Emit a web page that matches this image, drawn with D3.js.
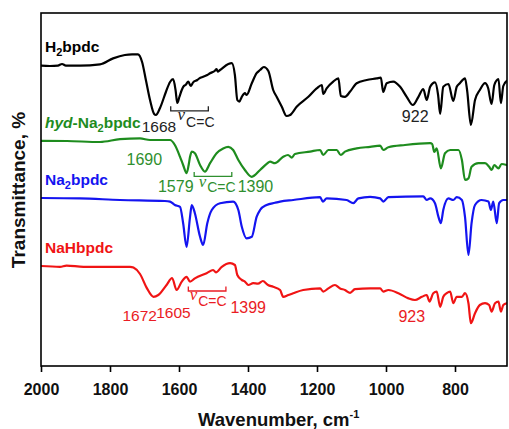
<!DOCTYPE html>
<html>
<head>
<meta charset="utf-8">
<script src="https://cdn.jsdelivr.net/npm/d3@7"></script>
<style>
  html, body { margin: 0; padding: 0; background: #fff; }
  svg { display: block; }
  text { font-family: "Liberation Sans", Arial, Helvetica, sans-serif; }
</style>
</head>
<body>
<svg id="chart" width="509" height="429"></svg>
<script>
// FTIR spectra, [wavenumber (cm-1), transmittance (offset, a.u.)]
const h2bpdc = [
  [2000,75.1],[1974,75.0],[1951,75.1],[1939,75.5],[1928,75.1],[1887,75.1],[1829,75.4],
  [1791,76.9],[1757,77.75],[1736,77.9],[1719,77.9],[1707,76.0],[1696,71.5],[1684,66.5],
  [1672,63.0],[1667,62.75],[1655,64.5],[1638,68.5],[1626,71.0],[1617,71.7],[1610,69.0],
  [1605,65.75],[1599,67.25],[1592,69.0],[1586,70.0],[1581,70.25],[1573,71.1],[1566,70.0],
  [1559,70.9],[1547,71.5],[1541,71.9],[1530,72.3],[1518,72.75],[1510,73.2],[1496,73.8],
  [1491,74.25],[1488,73.6],[1481,74.0],[1457,75.5],[1447,75.7],[1438,72.75],[1431,66.5],
  [1425,66.1],[1418,67.3],[1409,68.2],[1404,67.75],[1389,70.7],[1375,73.2],[1365,74.0],
  [1354,74.75],[1341,73.75],[1327,69.0],[1317,67.3],[1302,64.8],[1288,62.5],[1278,62.75],
  [1259,64.8],[1225,67.3],[1201,69.4],[1186,70.25],[1182,68.0],[1172,69.4],[1153,71.1],
  [1138,71.9],[1131,67.5],[1119,67.3],[1104,68.6],[1085,70.7],[1056,71.5],[1027,71.9],
  [1015,72.1],[1008,68.5],[998,70.7],[979,71.1],[959,69.8],[940,67.3],[922,65.25],
  [906,67.3],[892,69.25],[882,66.5],[872,69.8],[858,70.9],[849,67.75],[843,63.0],
  [834,69.8],[819,70.5],[805,66.25],[795,69.8],[786,70.7],[771,71.9],[765,69.0],
  [754,60.25],[742,66.5],[728,69.0],[713,70.7],[704,69.5],[694,65.5],[686,70.25],
  [674,71.7],[667,65.7],[660,70.0],[650,71.25]
];

const hydNa2bpdc = [
  [2000,56.3],[1925,56.25],[1829,56.0],[1771,56.7],[1713,56.9],[1684,56.5],[1655,56.5],
  [1626,56.5],[1612,55.25],[1597,52.3],[1588,50.25],[1578,48.2],[1572,50.25],[1568,52.3],
  [1563,53.6],[1554,53.2],[1539,50.25],[1525,48.6],[1510,50.7],[1491,53.2],[1472,54.4],
  [1457,54.8],[1443,54.0],[1428,51.5],[1409,49.0],[1389,47.3],[1365,49.0],[1345,50.6],
  [1336,51.1],[1322,50.7],[1298,52.3],[1284,52.75],[1273,52.1],[1264,53.0],[1220,53.6],
  [1191,54.0],[1182,52.75],[1167,54.0],[1143,54.0],[1131,52.75],[1119,53.6],[1085,54.4],
  [1046,54.8],[1017,55.1],[1008,54.0],[993,54.7],[945,55.25],[872,55.7],[866,55.5],
  [860,53.5],[853,54.4],[841,49.4],[829,53.2],[814,54.0],[790,54.0],[780,51.5],
  [771,46.5],[761,46.9],[752,49.8],[732,50.7],[713,50.7],[701,49.8],[694,49.0],
  [686,50.25],[674,49.4],[665,50.5],[650,50.25]
];

const na2bpdc = [
  [2000,42.0],[1887,41.9],[1771,41.5],[1641,41.25],[1626,41.1],[1612,40.25],[1597,39.8],
  [1588,35.7],[1578,29.8],[1568,37.3],[1563,40.25],[1554,38.2],[1539,32.3],[1530,30.25],
  [1518,35.7],[1505,39.0],[1481,40.7],[1443,41.1],[1428,39.0],[1418,34.8],[1404,31.9],
  [1389,32.3],[1375,37.3],[1365,39.0],[1346,40.25],[1322,40.8],[1307,41.1],[1269,41.5],
  [1191,42.2],[1183,41.1],[1172,41.9],[1114,41.5],[1095,40.7],[1080,41.9],[1046,42.3],
  [1017,41.9],[1008,41.1],[993,42.2],[892,42.4],[882,41.5],[872,41.9],[858,40.7],
  [848,37.3],[841,35.7],[834,39.0],[819,41.9],[805,41.5],[795,42.2],[780,41.5],
  [771,37.3],[761,27.75],[752,35.7],[742,40.25],[723,41.5],[703,41.1],[696,39.0],
  [689,41.1],[679,35.7],[672,40.7],[660,41.5],[650,41.5]
];

const nahbpdc = [
  [2000,25.0],[1945,24.8],[1926,25.1],[1877,24.8],[1742,24.8],[1732,24.6],[1713,23.0],
  [1694,19.6],[1674,17.3],[1660,17.75],[1636,20.25],[1620,22.0],[1607,19.0],[1592,21.1],
  [1578,22.3],[1568,21.1],[1554,21.9],[1520,23.2],[1501,24.0],[1493,23.4],[1476,24.8],
  [1452,25.7],[1438,25.25],[1431,22.75],[1418,21.5],[1409,21.1],[1399,20.25],[1385,20.7],
  [1371,20.6],[1357,21.25],[1342,20.25],[1327,19.8],[1307,19.0],[1298,17.3],[1283,17.75],
  [1269,18.2],[1240,19.0],[1191,19.4],[1182,18.6],[1167,19.4],[1148,20.25],[1133,19.4],
  [1119,19.0],[1104,18.3],[1090,19.2],[1046,19.4],[1017,19.4],[1008,18.6],[993,19.0],
  [964,18.2],[935,16.9],[916,16.5],[896,17.3],[882,17.75],[874,16.1],[863,18.2],
  [853,18.6],[843,14.8],[834,17.3],[824,18.2],[814,18.6],[805,15.7],[795,17.3],
  [780,17.3],[771,18.2],[761,15.7],[754,10.7],[742,13.2],[728,15.25],[713,15.7],
  [701,15.25],[694,13.6],[684,15.7],[674,16.1],[667,13.6],[660,15.25],[650,15.7]
];

const wavenumberTicks = [2000, 1800, 1600, 1400, 1200, 1000, 800];

// Band assignments written next to the spectra (cm-1)
const h2bpdcBands = ["1668", "922"];
const hydBands = ["1690", "1579", "1390"];
const nahBands = ["1672", "1605", "1399", "923"];

// ---- layout ----
const svg = d3.select("#chart");
const plot = { left: 41, top: 13, right: 507, bottom: 366 };

const x = d3.scaleLinear().domain([2000, 650]).range([plot.left, plot.left + 1350 * 0.345]);
const y = d3.scaleLinear().domain([0, 88.25]).range([plot.bottom, plot.top]);

const colors = { black: "#000000", green: "#1e8c1e", blue: "#1414f0", red: "#f01414" };
const annoColors = { black: "#222222", green: "#2f8f2f", red: "#ea1c24" };

svg.append("defs").append("clipPath").attr("id", "plotClip")
  .append("rect")
  .attr("x", plot.left).attr("y", plot.top)
  .attr("width", plot.right - plot.left).attr("height", plot.bottom - plot.top);

const line = d3.line()
  .x(d => x(d[0]))
  .y(d => y(d[1]))
  .curve(d3.curveMonotoneX);

const series = [
  { data: h2bpdc, color: colors.black },
  { data: hydNa2bpdc, color: colors.green },
  { data: na2bpdc, color: colors.blue },
  { data: nahbpdc, color: colors.red }
];

const gLines = svg.append("g").attr("clip-path", "url(#plotClip)");
gLines.selectAll("path")
  .data(series)
  .join("path")
  .attr("d", d => line(d.data))
  .attr("fill", "none")
  .attr("stroke", d => d.color)
  .attr("stroke-width", 2.2)
  .attr("stroke-linejoin", "round")
  .attr("stroke-linecap", "round");

// frame
svg.append("rect")
  .attr("x", plot.left).attr("y", plot.top)
  .attr("width", plot.right - plot.left).attr("height", plot.bottom - plot.top)
  .attr("fill", "none").attr("stroke", "#000").attr("stroke-width", 1.6);

// x axis
const xAxis = d3.axisBottom(x)
  .tickValues(wavenumberTicks)
  .tickFormat(d3.format("d"))
  .tickSize(6)
  .tickPadding(11.5);

const gx = svg.append("g")
  .attr("transform", `translate(0,${plot.bottom})`)
  .call(xAxis);
gx.select(".domain").remove();
gx.selectAll(".tick line").attr("stroke", "#000").attr("stroke-width", 1.6);
gx.selectAll(".tick text")
  .attr("fill", "#111")
  .style("font-family", '"Liberation Sans", Arial, sans-serif')
  .style("font-size", "16px")
  .style("font-weight", "bold");

// axis titles
const xt = svg.append("text")
  .attr("x", 198).attr("y", 426)
  .attr("fill", "#111")
  .style("font-size", "18.5px").style("font-weight", "bold");
xt.append("tspan").text("Wavenumber, cm");
xt.append("tspan").text("-1").attr("dy", -8).style("font-size", "11px");

svg.append("text")
  .attr("transform", "translate(25,190) rotate(-90)")
  .attr("text-anchor", "middle")
  .attr("fill", "#111")
  .style("font-size", "19px").style("font-weight", "bold")
  .text("Transmittance, %");

// series names
function seriesName(parts, color, v) {
  const t = svg.append("text")
    .attr("x", 45).attr("y", y(v))
    .attr("fill", color)
    .style("font-size", "15.5px").style("font-weight", "bold");
  parts.forEach(p => {
    const s = t.append("tspan").text(p.t);
    if (p.sub) s.attr("dy", 4).style("font-size", "11px");
    if (p.after) s.attr("dy", -4);
    if (p.italic) s.style("font-style", "italic");
  });
}
seriesName([{ t: "H" }, { t: "2", sub: true }, { t: "bpdc", after: true }], colors.black, 78.6);
seriesName([{ t: "hyd", italic: true }, { t: "-Na" }, { t: "2", sub: true }, { t: "bpdc", after: true }], colors.green, 59.4);
seriesName([{ t: "Na" }, { t: "2", sub: true }, { t: "bpdc", after: true }], colors.blue, 45.25);
seriesName([{ t: "NaHbpdc" }], colors.red, 28.2);

// band labels
function bandLabel(text, wn, v, color, size) {
  svg.append("text")
    .attr("x", x(wn)).attr("y", y(v))
    .attr("fill", color)
    .style("font-size", (size || 16) + "px")
    .text(text);
}
bandLabel(h2bpdcBands[0], 1708, 58.4, annoColors.black, 15.5);
bandLabel(h2bpdcBands[1], 954, 61.1, annoColors.black);
bandLabel(hydBands[0], 1752, 50.25, annoColors.green);
bandLabel(hydBands[1], 1661, 43.4, annoColors.green);
bandLabel(hydBands[2], 1430, 43.6, annoColors.green);
bandLabel(nahBands[0], 1764, 11.25, annoColors.red, 15.5);
bandLabel(nahBands[1], 1666, 11.9, annoColors.red, 15.5);
bandLabel(nahBands[2], 1451, 13.25, annoColors.red);
bandLabel(nahBands[3], 964, 11.1, annoColors.red);

// C=C stretching range brackets with ν(C=C) label
function ccBracket(wnFrom, wnTo, v, labelWn, labelV, nuRise, color) {
  const x1 = x(wnFrom), x2 = x(wnTo), yb = y(v), h = 4.5;
  svg.append("path")
    .attr("d", `M${x1},${yb - h}V${yb}H${x2}V${yb - h}`)
    .attr("fill", "none").attr("stroke", color).attr("stroke-width", 1.3);
  const lx = x(labelWn), ly = y(labelV);
  svg.append("text")
    .attr("x", lx).attr("y", ly - nuRise)
    .attr("fill", color)
    .style("font-family", '"Liberation Serif", "Times New Roman", serif')
    .style("font-style", "italic")
    .style("font-size", "17px")
    .text("\u03BD");
  svg.append("text")
    .attr("x", lx + 8.5).attr("y", ly)
    .attr("fill", color)
    .style("font-size", "14px")
    .text("C=C");
}
ccBracket(1624, 1515, 63.8, 1604, 59.75, 7, annoColors.black);
ccBracket(1556, 1447, 47.4, 1543, 43.6, 4.5, annoColors.green);
ccBracket(1573, 1464, 18.75, 1569, 14.9, 6, annoColors.red);
</script>
</body>
</html>
